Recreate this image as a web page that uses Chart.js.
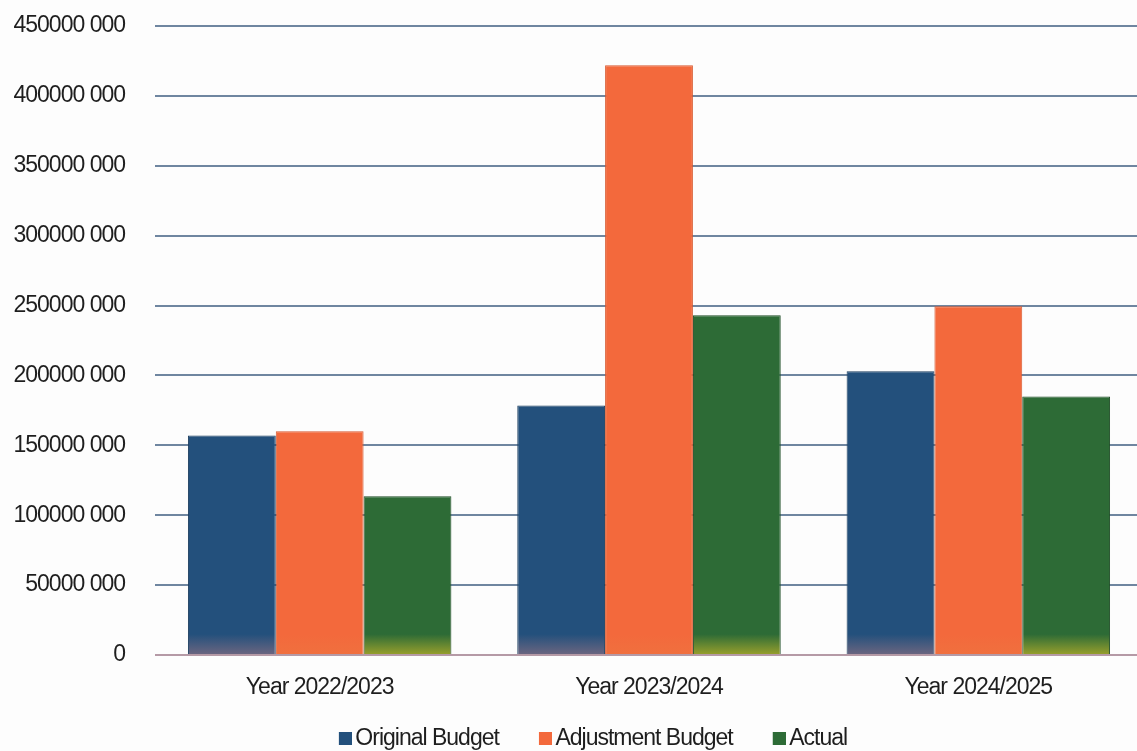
<!DOCTYPE html>
<html>
<head>
<meta charset="utf-8">
<script src="https://cdn.jsdelivr.net/npm/chart.js@4/dist/chart.umd.min.js"></script>
<style>
  html, body { margin: 0; padding: 0; background: #fdfdfd; overflow: hidden; }
  #wrap { width: 1143px; height: 760px; }
</style>
</head>
<body>
<div id="wrap"><canvas id="budgetChart"></canvas></div>
<script>
// budget comparison per financial year
const years = ['Year 2022/2023', 'Year 2023/2024', 'Year 2024/2025'];
const originalBudget = [157000000, 178500000, 203000000];
const adjustmentBudget = [160000000, 422000000, 249500000];
const actual = [113500000, 243000000, 185000000];
const yTicks = [0, 50000000, 100000000, 150000000, 200000000, 250000000, 300000000, 350000000, 400000000, 450000000];

const FONT = '"Liberation Sans", Arial, sans-serif';
const FSIZE = 23;

// "450000 000" style: a single space before the last three digits
function fmt(v) {
    if (v === 0) return '0';
    const s = String(v);
    return s.slice(0, -3) + ' ' + s.slice(-3);
}

// bars fade into a tinted base near the axis
function baseFade(top, base) {
    return (ctx) => {
        const area = ctx.chart.chartArea;
        if (!area) return top;
        const g = ctx.chart.ctx.createLinearGradient(0, area.bottom - 32, 0, area.bottom);
        g.addColorStop(0, top);
        g.addColorStop(0.35, top);
        g.addColorStop(1, base);
        return g;
    };
}

// legend swatch: small square pushed to the right, close to its text
function swatch(color) {
    const c = document.createElement('canvas');
    c.width = 36;
    c.height = 13;
    const g = c.getContext('2d');
    g.fillStyle = color;
    g.fillRect(23, 0, 13, 13);
    return c;
}

// tighter text, like a condensed face
const tightText = {
    id: 'tightText',
    beforeUpdate(chart) { chart.ctx.letterSpacing = '-1px'; },
    beforeDraw(chart) { chart.ctx.letterSpacing = '-1px'; }
};

// nudge the legend row a little to the right, under the plot
const legendShift = {
    id: 'legendShift',
    afterLayout(chart) {
        if (chart.legend) chart.legend.left += 28;
    }
};

const series = [
    { label: 'Original Budget', data: originalBudget, color: '#23507c', base: '#6d6680', border: '#1b3d5e' },
    { label: 'Adjustment Budget', data: adjustmentBudget, color: '#f3693c', base: '#f0703e', border: '#d85a30' },
    { label: 'Actual', data: actual, color: '#2d6b36', base: '#9aa02c', border: '#1f4d26' }
];

new Chart(document.getElementById('budgetChart'), {
    type: 'bar',
    plugins: [tightText, legendShift],
    data: {
        labels: years,
        datasets: series.map(s => ({
            label: s.label,
            data: s.data,
            backgroundColor: baseFade(s.color, s.base),
            borderColor: s.border,
            borderWidth: 1,
            categoryPercentage: 0.8,
            barPercentage: 1.0
        }))
    },
    options: {
        responsive: true,
        maintainAspectRatio: false,
        animation: false,
        layout: { padding: { top: 26, left: 0, right: 0, bottom: 0 } },
        plugins: {
            tooltip: { enabled: false },
            legend: {
                position: 'bottom',
                labels: {
                    font: { family: FONT, size: FSIZE },
                    color: '#1e1e1e',
                    usePointStyle: true,
                    pointStyleWidth: 20,
                    boxHeight: 13,
                    padding: 25,
                    generateLabels: (chart) => series.map((s, i) => ({
                        text: s.label,
                        pointStyle: swatch(s.color),
                        fillStyle: s.color,
                        strokeStyle: s.color,
                        lineWidth: 0,
                        datasetIndex: i,
                        fontColor: '#1e1e1e'
                    }))
                }
            }
        },
        scales: {
            x: {
                afterFit: (axis) => { axis.height = 47; },
                grid: { display: false, drawTicks: false },
                border: { display: false },
                ticks: { font: { family: FONT, size: FSIZE }, color: '#1e1e1e', padding: 19 }
            },
            y: {
                min: 0,
                max: 450000000,
                afterBuildTicks: (axis) => { axis.ticks = yTicks.map(v => ({ value: v })); },
                afterFit: (axis) => { axis.width = 155; },
                grid: {
                    color: (ctx) => ctx.tick && ctx.tick.value === 0 ? '#b59aa6' : '#6f86a0',
                    lineWidth: 2,
                    drawTicks: true,
                    tickLength: 30,
                    tickColor: 'rgba(0,0,0,0)'
                },
                border: { display: false },
                ticks: {
                    font: { family: FONT, size: FSIZE },
                    color: '#1e1e1e',
                    padding: 0,
                    callback: (v) => fmt(v)
                }
            }
        }
    }
});
</script>
</body>
</html>
